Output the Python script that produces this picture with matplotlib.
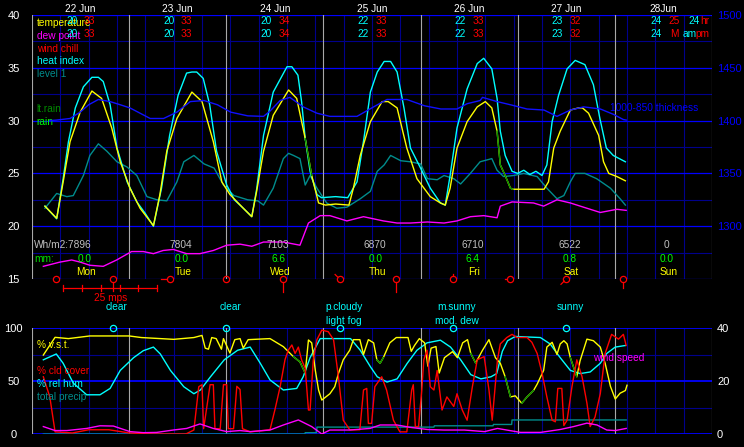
import numpy as np
import matplotlib
matplotlib.use("Agg")
import matplotlib.pyplot as plt

plt.rcParams['font.family'] = ['Liberation Sans', 'DejaVu Sans']

# colours
BRIGHT = "#0000ff"
DIM = "#00008c"
GRAY = "#a8a8a8"
TEAL = "#008c8c"
DKGREEN = "#008c00"

# ---- per-day header / footer texts ----
dates = ["22 Jun", "23 Jun", "24 Jun", "25 Jun", "26 Jun", "27 Jun", "28Jun"]
day_names = ["Mon", "Tue", "Wed", "Thu", "Fri", "Sat", "Sun"]
lo1 = ["20", "20", "20", "22", "22", "23", "24"]
hi1 = ["33", "33", "34", "33", "33", "32", "25"]
lo2 = ["20", "20", "20", "22", "22", "23", "24"]
hi2 = ["33", "33", "34", "33", "33", "32", "M"]
solar = ["Wh/m2:7896", "7804", "7103", "6870", "6710", "6522", "0"]
rain_mm = ["0.0", "0.0", "6.6", "0.0", "6.4", "0.8", "0.0"]

# ---- top panel series (hours from start, value) ----
temp_h = [3.2, 6.1, 7.7, 9.4, 11.9, 14.8, 17.2, 19.7, 21.8, 24.2, 26.7, 30.0, 31.6, 33.3, 35.8,
          39.5, 42.0, 44.8, 46.9, 48.9, 52.2, 54.3, 55.5, 57.2, 59.6, 63.4, 65.4, 67.5, 69.1, 70.8,
          72.5, 75.0, 78.3, 79.4, 81.1, 83.6, 86.5, 88.0, 90.2, 92.6, 95.1, 98.4, 100.9, 102.1,
          103.3, 105.0, 107.5, 110.0, 112.0, 113.6, 114.9, 115.7, 116.9, 118.2, 118.8, 122.0,
          126.5, 127.6, 128.9, 130.5, 133.0, 135.0, 136.0, 137.5, 140.0, 141.2, 142.5, 144.5, 146.6]
temp_v = [21.9, 20.75, 24.2, 28.0, 30.8, 32.8, 32.1, 29.3, 26.1, 23.6, 21.7, 20.05, 23.0, 27.1, 30.2,
          32.7, 31.8, 28.0, 24.2, 23.0, 21.7, 20.9, 23.3, 27.1, 30.5, 32.9, 32.1, 28.3, 24.8, 22.2,
          22.0, 22.1, 22.0, 23.6, 26.7, 29.9, 31.8, 31.8, 31.2, 27.4, 24.5, 22.8, 22.2, 22.0,
          23.6, 27.4, 29.9, 31.3, 31.8, 31.2, 29.0, 25.8, 24.8, 23.6, 23.5, 23.5,
          23.5, 24.2, 27.4, 29.0, 31.0, 31.2, 31.2, 30.7, 28.6, 26.1, 25.0, 24.7, 24.3]

heat_h = [3.2, 6.1, 7.7, 9.0, 10.7, 12.7, 14.8, 16.4, 17.6, 19.3, 21.0, 23.5, 25.9, 28.0, 30.0,
          32.0, 34.0, 36.1, 38.2, 39.5, 40.7, 42.3, 43.9, 45.6, 48.1, 50.0, 52.2, 54.3, 55.5,
          57.2, 59.6, 63.0, 64.2, 65.7, 66.6, 67.5, 68.7, 70.4, 71.5, 75.0, 78.0, 80.3, 82.0,
          83.6, 85.3, 87.0, 88.6, 90.2, 91.9, 93.5, 96.0, 98.4, 100.9, 102.1, 103.3, 105.0,
          107.5, 110.0, 111.6, 113.6, 114.9, 115.7, 116.9, 118.6, 120.0, 121.5, 123.0, 124.5,
          126.0, 127.2, 128.5, 130.1, 132.2, 134.2, 136.6, 138.7, 140.3, 141.9, 143.6, 146.6]
heat_v = [21.9, 20.7, 24.5, 28.0, 31.2, 33.2, 34.1, 34.1, 33.7, 31.5, 27.4, 24.2, 22.3, 21.2, 20.0,
          23.6, 28.6, 32.4, 34.5, 34.6, 34.6, 34.0, 31.5, 27.1, 23.9, 22.5, 21.7, 20.9, 23.5,
          28.6, 32.7, 35.1, 35.1, 34.3, 31.8, 28.3, 25.2, 23.0, 22.7, 22.8, 22.7, 24.2, 28.3,
          32.7, 34.6, 35.6, 35.6, 34.6, 31.2, 27.4, 25.5, 23.6, 22.2, 22.0, 24.8, 29.3,
          33.0, 35.4, 35.9, 34.9, 32.1, 29.0, 26.7, 25.2, 25.0, 25.3, 24.9, 25.2,
          24.8, 25.8, 29.9, 32.4, 34.9, 35.7, 35.3, 33.4, 30.2, 27.4, 26.7, 26.1]

lev1_h = [3.2, 6.1, 8.6, 10.2, 12.7, 14.3, 16.4, 18.5, 21.0, 23.5, 25.9, 28.4, 30.9, 33.3, 35.8,
          37.5, 40.0, 42.5, 45.0, 47.3, 49.9, 53.3, 55.8, 57.2, 59.6, 62.1, 63.4, 64.6, 66.2,
          67.5, 68.7, 70.4, 72.8, 75.3, 77.8, 81.1, 83.6, 85.3, 87.0, 88.6, 91.1, 93.5, 96.0,
          97.7, 100.1, 101.8, 104.2, 105.9, 108.3, 110.7, 113.6, 114.9, 116.5, 119.0, 121.5,
          124.8, 127.2, 129.7, 131.4, 133.0, 134.2, 136.6, 139.5, 142.9, 145.3, 146.6]
lev1_v = [21.7, 23.1, 22.8, 22.9, 24.8, 26.7, 27.8, 27.1, 26.1, 25.6, 24.8, 22.8, 22.5, 22.4, 24.2,
          26.1, 26.7, 25.9, 25.5, 23.9, 22.9, 22.5, 22.4, 22.0, 23.6, 26.4, 26.9, 26.7, 26.4,
          23.9, 24.8, 23.6, 22.2, 21.7, 21.8, 22.6, 23.3, 25.2, 25.8, 26.7, 26.2, 26.1, 25.9,
          24.5, 24.4, 24.8, 24.5, 24.0, 25.0, 26.1, 26.4, 25.3, 24.7, 24.8, 25.0,
          24.7, 23.6, 22.6, 22.9, 24.2, 25.0, 25.0, 24.5, 23.6, 22.6, 22.0]

# 1000-850 hPa thickness (m, right axis)
thick_h = [4.4, 6.1, 9.4, 11.9, 14.0, 16.4, 19.3, 21.8, 24.2, 26.7, 29.2, 32.5, 35.8, 39.1, 42.5,
           45.8, 49.1, 53.3, 57.2, 58.8, 61.3, 63.7, 67.0, 70.4, 73.6, 80.3, 84.4, 87.7, 92.6,
           97.0, 101.0, 105.0, 107.5, 110.7, 111.3, 114.9, 118.2, 122.3, 126.5, 129.7, 133.0,
           136.3, 140.4, 143.6, 146.1, 146.8]
thick_v = [1400, 1400.5, 1402, 1408, 1415, 1420, 1418, 1415, 1412, 1407, 1402, 1402, 1408, 1418, 1419,
           1415, 1408, 1404.5, 1404, 1409, 1419, 1422, 1413, 1407, 1404, 1404, 1413, 1420, 1420,
           1414, 1411, 1411, 1416, 1419, 1422, 1418, 1415, 1411, 1410, 1404, 1410,
           1413, 1411, 1406, 1401, 1400.5]

dew_h = [2.8, 6.9, 9.8, 11.9, 14.3, 17.6, 20.9, 24.6, 27.5, 30.0, 32.4, 34.9, 38.2, 41.5, 44.8,
         48.1, 51.4, 54.3, 57.2, 62.1, 66.2, 67.5, 68.3, 71.2, 73.6, 77.8, 81.9, 86.8, 90.2,
         93.5, 97.7, 101.8, 105.0, 108.3, 111.6, 114.9, 115.7, 118.6, 123.9, 126.4, 129.7,
         133.0, 137.1, 140.4, 144.5, 146.8]
dew_v = [16.2, 16.6, 16.8, 16.6, 16.3, 16.2, 16.8, 17.6, 17.6, 17.4, 17.7, 17.8, 17.4, 17.4, 17.7,
         18.2, 18.3, 18.1, 18.5, 18.5, 18.2, 19.5, 20.3, 21.0, 21.0, 20.5, 20.9, 20.5, 20.3,
         20.3, 20.4, 20.3, 20.5, 20.9, 21.0, 20.8, 21.9, 22.3, 22.2, 21.9, 22.5,
         22.2, 21.7, 21.3, 21.6, 21.5]

# rain periods on temperature trace (start h, end h)
lt_rain_top = [(66.5, 69.2), (114.5, 118.9)]

# wind barbs under top panel: hour, speed (mps), stem direction (deg)
barb_h = [6, 20, 34, 48, 62, 76, 90, 104, 118, 132, 146]
barb_spd = [0.0, 2.4, 1.6, 0.0, 2.6, 0.9, 2.7, 0.5, 0.4, 1.2, 1.6]
barb_dir = [270, 270, 180, 270, 270, 135, 270, 90, 180, 225, 270]

# sky conditions
sky_h = [20, 48, 76, 104, 132]
sky_top = ["clear", "clear", "p.cloudy", "m.sunny", "sunny"]
sky_bot = ["", "", "light fog", "mod. dew", ""]

# ---- bottom panel series ----
vst_h = [2.8, 5.7, 9.0, 14.3, 24.0, 27.0, 35.0, 40.0, 42.0, 42.8, 43.6, 44.4, 45.5, 46.8, 47.3,
         48.9, 50.1, 51.4, 52.2, 53.4, 58.8, 62.1, 64.6, 66.2, 67.5, 68.3, 69.1, 70.0, 70.8,
         71.6, 73.6, 74.8, 75.7, 76.9, 78.5, 79.4, 81.0, 81.9, 83.1, 84.4, 85.2, 86.0, 86.8,
         88.4, 90.0, 92.9, 93.7, 94.5, 95.7, 97.0, 97.8, 98.6, 99.8, 100.6, 101.9, 103.9,
         105.1, 106.4, 107.6, 108.4, 109.6, 111.3, 112.9, 114.5, 115.7, 116.9, 118.2, 119.4,
         121.0, 122.3, 123.9, 124.8, 126.4, 127.2, 128.5, 129.7, 130.5, 131.4, 132.2, 133.0,
         134.6, 135.4, 137.1, 138.7, 140.4, 141.6, 142.9, 144.1, 145.3, 146.6, 147.0]
vst_v = [74.5, 91.2, 90.0, 92.5, 92.5, 91.0, 89.3, 91.0, 93.0, 81.0, 80.0, 91.0, 90.0, 80.0, 90.0,
         76.4, 89.0, 90.0, 81.0, 89.0, 90.0, 82.4, 72.9, 68.0, 57.5, 88.7, 86.0, 60.0, 41.5,
         32.0, 38.0, 44.6, 57.0, 70.0, 79.0, 89.0, 89.0, 75.0, 89.0, 86.0, 70.0, 66.7, 72.0,
         86.0, 91.0, 91.0, 78.0, 83.5, 90.0, 86.0, 64.0, 81.0, 82.5, 57.5, 72.0, 77.7,
         72.0, 86.0, 89.0, 76.0, 67.0, 79.0, 89.0, 72.0, 66.7, 54.0, 35.0, 36.0,
         29.0, 35.0, 41.0, 47.0, 60.0, 82.0, 86.5, 75.0, 85.0, 88.0, 85.0, 72.0,
         54.0, 69.0, 89.5, 88.0, 82.0, 66.7, 45.0, 33.0, 38.5, 41.0, 46.0]
vst_green = [(64.5, 67.6), (85.1, 86.9), (108.3, 109.7), (116.8, 118.3), (120.9, 124.0), (132.9, 134.7)]

cld_h = [2.8, 4.4, 5.7, 10.0, 14.0, 19.0, 24.0, 30.0, 38.0, 40.0, 41.2, 42.0, 42.4, 44.0, 44.8,
         45.2, 46.5, 47.3, 48.1, 48.5, 49.8, 50.6, 51.4, 52.0, 53.9, 58.8, 60.0, 61.3, 62.5,
         63.3, 64.2, 65.0, 65.8, 66.6, 67.5, 68.3, 68.7, 69.5, 70.4, 71.6, 73.2, 74.5, 75.7,
         76.9, 78.5, 81.0, 81.9, 82.7, 83.1, 83.9, 84.7, 86.4, 87.6, 89.3, 90.9, 92.6, 93.8,
         94.2, 94.7, 95.5, 96.3, 96.8, 97.6, 98.4, 99.3, 100.1, 101.3, 102.5, 104.2, 105.0,
         106.3, 107.5, 108.8, 110.0, 111.7, 112.9, 113.7, 115.0, 115.7, 117.3, 118.6, 119.8,
         122.3, 123.5, 124.8, 126.0, 127.2, 128.5, 129.3, 129.9, 130.9, 131.4, 132.2, 133.4,
         134.6, 135.9, 137.1, 137.9, 139.1, 140.4, 141.6, 143.2, 144.9, 146.1, 146.8]
cld_v = [54, 35, 2, 1, 4, 4, 1, 0, 0, 3.8, 44.6, 46.5, 5, 46.5, 46.5,
         5, 5, 46.5, 46.5, 5, 5, 45, 42, 5, 2, 4, 22.6, 44.6, 70,
         79, 84, 76, 82, 70, 62, 22.6, 22.6, 70, 89, 98, 96.5, 89, 54,
         13, 4, 4, 41.5, 43, 10, 10, 44.6, 54, 41.5, 13, 2, 2, 41.5,
         46.5, 7, 7, 41.5, 70, 79, 44.6, 41.5, 60, 22.6, 35, 26, 38,
         22.6, 13, 44.6, 70, 73, 41.5, 13, 70, 85, 91, 94, 91,
         91, 86.5, 76, 57.5, 35, 13, 11.5, 43, 43, 8, 13, 44.6,
         70, 54, 29, 7, 16, 38, 76, 94, 89.5, 94, 83.5]

rh_h = [2.8, 6.0, 7.7, 10.2, 13.5, 16.8, 19.3, 21.8, 25.1, 27.5, 30.0, 31.7, 34.2, 37.5, 40.0,
        41.6, 44.1, 47.5, 50.8, 53.9, 56.4, 58.8, 62.1, 65.4, 67.0, 68.7, 71.2, 73.7, 78.7,
        81.1, 83.6, 85.3, 87.7, 90.2, 92.7, 95.1, 97.6, 100.9, 103.4, 105.9, 108.4, 110.9,
        113.4, 114.8, 116.2, 117.5, 119.4, 125.6, 128.0, 130.5, 133.0, 135.4, 137.9, 140.4,
        142.0, 144.1, 146.6]
rh_v = [70, 75.5, 66.7, 48, 37, 37, 43, 60, 72, 78.6, 82, 75.5, 60, 44.6, 38,
        41.5, 54, 70, 79, 82, 66.7, 51, 41.5, 43, 54, 72, 90, 90, 90,
        79, 63.5, 54, 49, 52, 66.7, 79, 86, 88.5, 82, 70, 56, 52,
        54, 57, 78, 88, 92, 91, 85, 72, 60, 57, 58.5, 66.7,
        76, 82, 83.5]

precip_h = [2.8, 67.4, 67.5, 70.3, 70.4, 99.3, 99.4, 113.9, 114.0, 118.5, 118.6, 146.8]
precip_v = [0.0, 0.0, 0.5, 0.5, 2.6, 2.6, 3.1, 3.1, 3.6, 3.6, 5.3, 5.3]

wspd_h = [2.8, 5.7, 8.6, 13.5, 16.8, 20.1, 24.2, 27.5, 30.8, 34.9, 38.2, 41.5, 44.8, 48.1, 51.4,
          53.9, 58.8, 62.1, 65.8, 69.1, 71.6, 73.6, 78.5, 83.5, 86.0, 90.2, 93.5, 97.7, 101.8,
          106.8, 111.8, 115.0, 120.7, 125.6, 130.5, 133.8, 137.1, 139.6, 142.0, 144.1, 146.8]
wspd_v = [2.8, 1.3, 1.3, 2.1, 3.1, 3.0, 0.9, 0.5, 0.6, 1.5, 2.1, 3.8, 2.1, 0.9, 1.3,
          0.9, 1.5, 3.4, 5.3, 2.8, 0.0, 1.5, 1.5, 2.1, 3.4, 3.4, 2.5, 1.7, 1.5,
          1.5, 0.9, 2.1, 0.6, 0.6, 1.7, 2.8, 4.1, 3.4, 1.5, 1.3, 2.1]

# ---------------------------------------------------------------
fig = plt.figure(figsize=(7.44, 4.47), dpi=100, facecolor="black")
W, H = 744.0, 447.0
ax = fig.add_axes([32 / W, 1 - 279 / H, 680 / W, 264 / H], facecolor="black")
ax3 = fig.add_axes([32 / W, 1 - 434 / H, 680 / W, 106 / H], facecolor="black")

PXH = 680 / 168.0      # pixels per hour
PXT = 264 / 25.0       # pixels per degree


def frame(a, ylo, yhi, hlines, bright):
    a.set_xlim(0, 168)
    a.set_ylim(ylo, yhi)
    a.set_xticks([])
    for s in a.spines.values():
        s.set_visible(False)
    for h in range(7, 168, 7):
        a.axvline(h, color=DIM, lw=0.8, zorder=1)
    for v in hlines:
        if v in bright:
            a.axhline(v, color=BRIGHT, lw=1.3 if a is ax3 else 0.9, zorder=2)
        else:
            a.axhline(v, color=DIM, lw=0.8, zorder=2)
    for h in range(0, 169, 24):
        a.axvline(h, color=GRAY, lw=0.8, zorder=3)


frame(ax, 15, 40, list(np.arange(15, 40.1, 2.5)), [15, 20, 25, 30, 35, 40])
frame(ax3, 0, 100, [0, 25, 50, 75, 100], [0, 50, 100])

# left tick labels are centred in the margin
ax.set_yticks([15, 20, 25, 30, 35, 40])
ax.tick_params(axis="y", length=0, colors="white", labelsize=8, pad=13.3)
for lb in ax.get_yticklabels():
    lb.set_horizontalalignment("center")
ax2 = ax.twinx()
ax2.set_ylim(1250, 1500)
ax2.set_yticks([1300, 1350, 1400, 1450, 1500])
ax2.tick_params(axis="y", length=0, colors=BRIGHT, labelsize=8, pad=3.6)
for s in ax2.spines.values():
    s.set_visible(False)

ax3.set_yticks([0, 50, 100])
ax3.tick_params(axis="y", length=0, colors="white", labelsize=8, pad=13.3)
for lb in ax3.get_yticklabels():
    lb.set_horizontalalignment("center")
ax4 = ax3.twinx()
ax4.set_ylim(0, 40)
ax4.set_yticks([0, 20, 40])
ax4.tick_params(axis="y", length=0, colors="white", labelsize=8, pad=3.6)
for s in ax4.spines.values():
    s.set_visible(False)

# ---- top panel curves ----
ax2.plot(thick_h, thick_v, color="#1010ff", lw=1.0, zorder=4)
ax.plot(lev1_h, lev1_v, color=TEAL, lw=1.0, zorder=5)
ax.plot(dew_h, dew_v, color="#ff00ff", lw=1.0, zorder=5)
ax.plot(heat_h, heat_v, color="#00ffff", lw=1.0, zorder=6)
ax.plot(temp_h, temp_v, color="#ffff00", lw=1.0, zorder=7)
th = np.array(temp_h)
tv = np.array(temp_v)
for a0, a1 in lt_rain_top:
    m = (th >= a0) & (th <= a1)
    ax.plot(th[m], tv[m], color=DKGREEN, lw=1.0, zorder=8)

# legend labels top
fs = 7.3
legend_top = [("temperature", "#ffff00", 39.2), ("dew point", "#ff00ff", 38.0),
              ("wind chill", "#ff0000", 36.8), ("heat index", "#00ffff", 35.6),
              ("level 1", TEAL, 34.4), ("lt.rain", DKGREEN, 31.1), ("rain", "#00ff00", 29.9)]
for txt, c, y in legend_top:
    ax.text(1.2, y, txt, color=c, fontsize=fs, va="center", ha="left", zorder=9)

# per-day texts
for d in range(7):
    c = d * 24 + 12
    ax.text(c, 40.6, dates[d], color="white", fontsize=fs, ha="center", va="center", clip_on=False)
    if d < 6:
        ax.text(c - 2.2, 39.4, lo1[d], color="#00ffff", fontsize=fs, ha="center", va="center", zorder=10)
        ax.text(c + 2.2, 39.4, hi1[d], color="#ff0000", fontsize=fs, ha="center", va="center", zorder=10)
        ax.text(c - 2.2, 38.2, lo2[d], color="#00ffff", fontsize=fs, ha="center", va="center", zorder=10)
        ax.text(c + 2.2, 38.2, hi2[d], color="#ff0000", fontsize=fs, ha="center", va="center", zorder=10)
    else:
        ax.text(c - 1.7, 39.4, lo1[d], color="#00ffff", fontsize=fs, ha="center", va="center", zorder=10)
        ax.text(c + 2.6, 39.4, hi1[d], color="#ff0000", fontsize=fs, ha="center", va="center", zorder=10)
        ax.text(c - 1.7, 38.2, lo2[d], color="#00ffff", fontsize=fs, ha="center", va="center", zorder=10)
        ax.text(c + 2.6, 38.2, hi2[d], color="#ff0000", fontsize=fs, ha="center", va="center", zorder=10)
    if d == 0:
        ax.text(0.5, 18.2, solar[d], color="#c0c0c0", fontsize=fs, ha="left", va="center", zorder=10)
        ax.text(0.5, 16.9, "mm:", color="#00dd00", fontsize=fs, ha="left", va="center", zorder=10)
    else:
        ax.text(c + 0.8, 18.2, solar[d], color="#c0c0c0", fontsize=fs, ha="center", va="center", zorder=10)
    ax.text(c + 0.9, 16.9, rain_mm[d], color="#00ff00", fontsize=fs, ha="center", va="center", zorder=10)
    ax.text(c + 1.3, 15.65, day_names[d], color="#ffff00", fontsize=fs, ha="center", va="center", zorder=10)

# extra key on last day
ax.text(163.5, 39.4, "24", color="#00ffff", fontsize=fs, ha="center", va="center")
ax.text(165.0, 39.4, "hr", color="#ff0000", fontsize=fs, ha="left", va="center")
ax.text(160.8, 38.2, "am", color="#00ffff", fontsize=fs, ha="left", va="center")
ax.text(163.8, 38.2, "pm", color="#ff0000", fontsize=fs, ha="left", va="center")
ax.text(142.8, 31.2, "1000-850 thickness", color=BRIGHT, fontsize=fs, ha="left", va="center", zorder=10)

# wind barbs below the top panel
for h, s, dg in zip(barb_h, barb_spd, barb_dir):
    ax.plot([h], [15], marker="o", ms=4.5, mfc="none", mec="#ff0000", mew=0.9,
            clip_on=False, zorder=10)
    if s > 0:
        L = s * 94 / 25.0
        ca, sa = np.cos(np.radians(dg)), np.sin(np.radians(dg))
        x0, y0 = h + 3 * ca / PXH, 15 + 3 * sa / PXT
        x1, y1 = h + (3 + L) * ca / PXH, 15 + (3 + L) * sa / PXT
        ax.plot([x0, x1], [y0, y1], color="#ff0000", lw=0.9, clip_on=False, zorder=10)

# 25 mps scale bar
bar0 = 7.7
bar_len = 25 * 94 / 25.0 / PXH
ybar = 15 - 9 / PXT
ax.plot([bar0, bar0 + bar_len], [ybar, ybar], color="#ff0000", lw=0.9, clip_on=False)
for k in range(6):
    xk = bar0 + bar_len * k / 5
    ax.plot([xk, xk], [ybar - 3 / PXT, ybar + 3 / PXT], color="#ff0000", lw=0.9, clip_on=False)
ax.text(bar0 + bar_len / 2, ybar - 10 / PXT, "25 mps", color="#ff0000", fontsize=fs,
        ha="center", va="center", clip_on=False)

# ---- bottom panel ----
ax4.plot(wspd_h, wspd_v, color="#ff00ff", lw=1.0, zorder=4)
ax3.plot(precip_h, [v * 2.5 for v in precip_v], color=TEAL, lw=1.0, zorder=4)
ax3.plot(rh_h, rh_v, color="#00ffff", lw=1.0, zorder=5)
ax3.plot(vst_h, vst_v, color="#ffff00", lw=1.0, zorder=6)
vh = np.array(vst_h)
vv = np.array(vst_v)
for a0, a1 in vst_green:
    m = (vh >= a0) & (vh <= a1)
    ax3.plot(vh[m], vv[m], color=DKGREEN, lw=1.0, zorder=7)
ax3.plot(cld_h, cld_v, color="#ff0000", lw=1.0, zorder=8)

legend_bot = [("% v.s.t.", "#ffff00", 84), ("% cld cover", "#ff0000", 59.4),
              ("% rel hum", "#00ffff", 47.2), ("total precip", TEAL, 35)]
for txt, c, y in legend_bot:
    ax3.text(1.2, y, txt, color=c, fontsize=fs, va="center", ha="left", zorder=9)
ax3.text(138.6, 71.7, "wind speed", color="#ff00ff", fontsize=fs, va="center", ha="left", zorder=9)

# sky condition markers
ax3.plot(sky_h, [100] * len(sky_h), "o", ms=4.5, mfc="none", mec="#00ffff", mew=0.9,
         clip_on=False, zorder=10)
for h, t1, t2 in zip(sky_h, sky_top, sky_bot):
    ax3.text(h + 1, 119.8, t1, color="#00ffff", fontsize=fs, ha="center", va="center", clip_on=False)
    if t2:
        ax3.text(h + 1, 106.6, t2, color="#00ffff", fontsize=fs, ha="center", va="center", clip_on=False)

fig.savefig("out.png", dpi=100, facecolor="black")
